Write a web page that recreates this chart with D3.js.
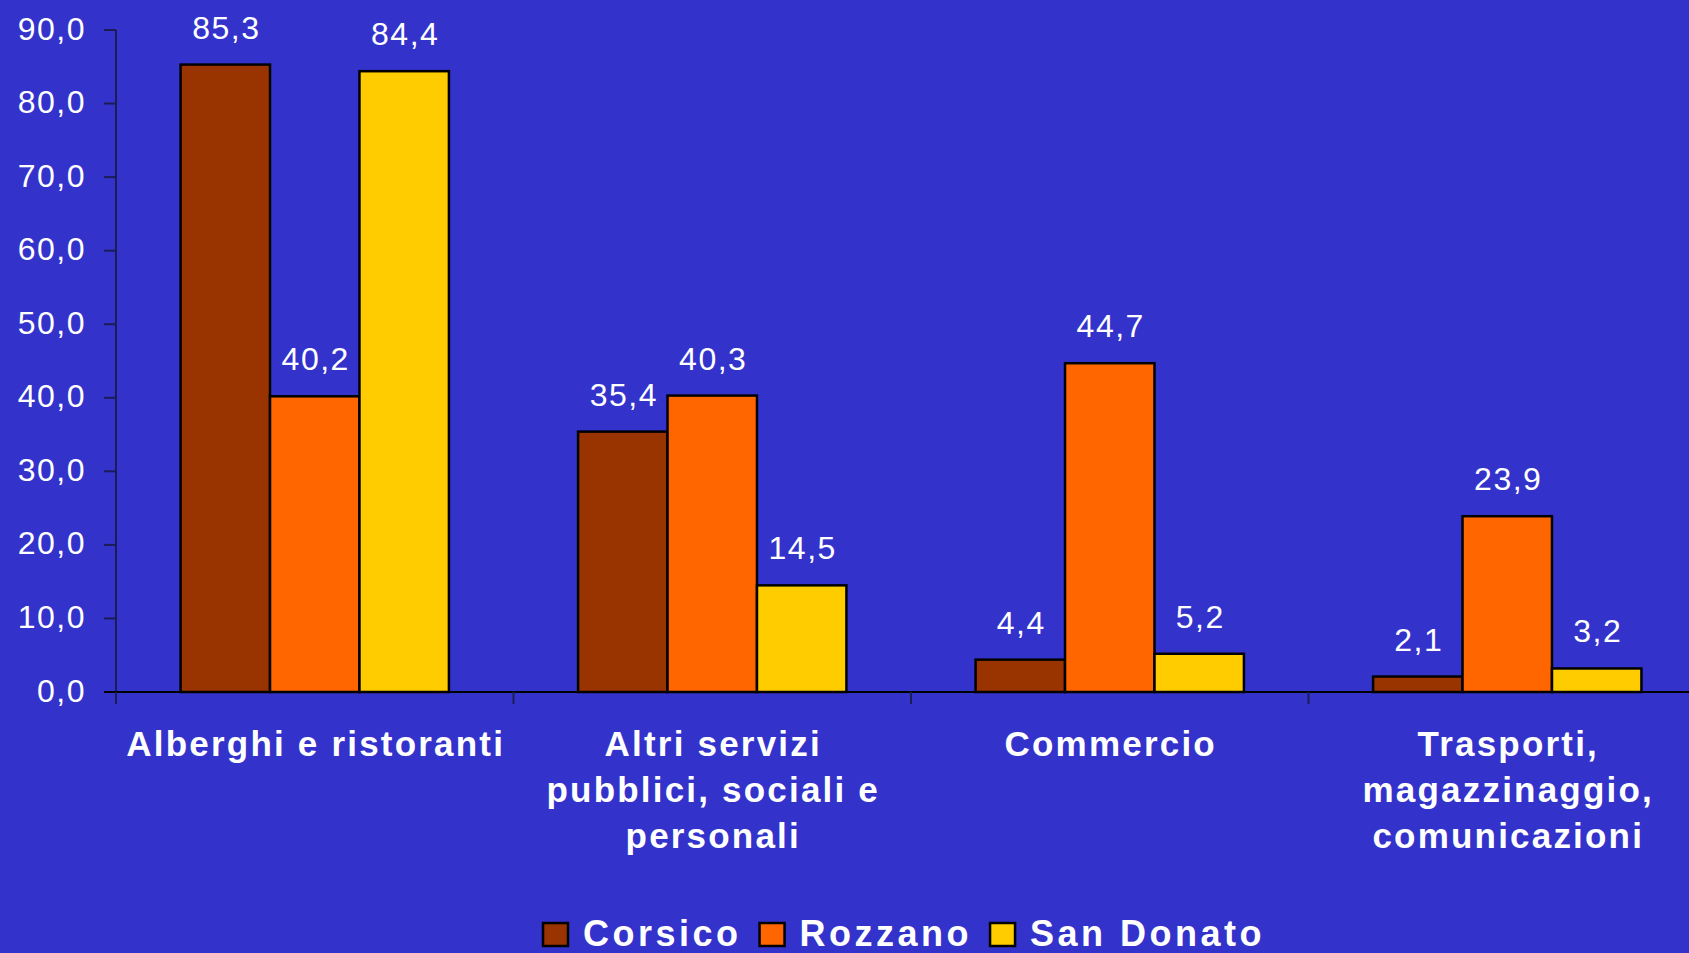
<!DOCTYPE html>
<html>
<head>
<meta charset="utf-8">
<script src="https://cdn.jsdelivr.net/npm/d3@7"></script>
<style>
  body { margin: 0; background: #3333cc; overflow: hidden; }
  svg { display: block; }
  text { font-family: "Liberation Sans", Arial, sans-serif; fill: #ffffff; }
</style>
</head>
<body>
<div id="vis"></div>
<script>
const WIDTH = 1689;
const HEIGHT = 953;

// data
const categories = [
  ["Alberghi e ristoranti"],
  ["Altri servizi", "pubblici, sociali e", "personali"],
  ["Commercio"],
  ["Trasporti,", "magazzinaggio,", "comunicazioni"]
];
const series = ["Corsico", "Rozzano", "San Donato"];
const colors = ["#993300", "#ff6600", "#ffcc00"];
const corsico = [85.3, 35.4, 4.4, 2.1];
const rozzano = [40.2, 40.3, 44.7, 23.9];
const sanDonato = [84.4, 14.5, 5.2, 3.2];
const yTicks = [0, 10, 20, 30, 40, 50, 60, 70, 80, 90];

const values = [corsico, rozzano, sanDonato];
const catKeys = categories.map((c, i) => i);

const svg = d3.select("#vis").append("svg")
  .attr("width", WIDTH)
  .attr("height", HEIGHT);

const PLOT_LEFT = 116;
const STEP = 397.5;

const X = d3.scaleBand()
  .domain(catKeys)
  .range([PLOT_LEFT, PLOT_LEFT + STEP * catKeys.length])
  .padding(0);

const X_INNER = d3.scaleBand()
  .domain(d3.range(series.length))
  .range([0, X.bandwidth()])
  .paddingInner(0)
  .paddingOuter(0.722);

const Y = d3.scaleLinear()
  .domain([0, 90])
  .range([692, 30]);

const fmt = (v) => v.toFixed(1).replace(".", ",");

// y axis
svg.append("line")
  .attr("x1", PLOT_LEFT).attr("x2", PLOT_LEFT)
  .attr("y1", Y(90)).attr("y2", Y(0) + 12)
  .attr("stroke", "#1c1c55").attr("stroke-width", 2);

svg.selectAll(".ytick")
  .data(yTicks)
  .enter()
  .append("line")
    .attr("x1", PLOT_LEFT - 12).attr("x2", PLOT_LEFT)
    .attr("y1", (d) => Y(d)).attr("y2", (d) => Y(d))
    .attr("stroke", "#1c1c55").attr("stroke-width", 2);

svg.selectAll(".ylabel")
  .data(yTicks)
  .enter()
  .append("text")
    .attr("x", 86)
    .attr("y", (d) => Y(d))
    .attr("dy", "0.3em")
    .attr("text-anchor", "end")
    .style("font-size", "32px")
    .style("letter-spacing", "1.5px")
    .text(fmt);

// bars
catKeys.forEach((c) => {
  const g = svg.append("g").attr("transform", "translate(" + X(c) + ",0)");
  series.forEach((s, si) => {
    const v = values[si][c];
    g.append("rect")
      .attr("x", X_INNER(si))
      .attr("y", Y(v))
      .attr("width", X_INNER.bandwidth())
      .attr("height", Y(0) - Y(v))
      .attr("fill", colors[si])
      .attr("stroke", "#000")
      .attr("stroke-width", 2.5);
    g.append("text")
      .attr("x", X_INNER(si) + X_INNER.bandwidth() / 2 + 1)
      .attr("y", Y(v) - 26)
      .attr("text-anchor", "middle")
      .style("font-size", "32px")
      .style("letter-spacing", "1.5px")
      .text(fmt(v));
  });
});

// baseline and category ticks
svg.append("line")
  .attr("x1", PLOT_LEFT - 12).attr("x2", WIDTH)
  .attr("y1", Y(0)).attr("y2", Y(0))
  .attr("stroke", "#000").attr("stroke-width", 2);

svg.selectAll(".xtick")
  .data(catKeys)
  .enter()
  .append("line")
    .attr("x1", (d) => X(d)).attr("x2", (d) => X(d))
    .attr("y1", Y(0)).attr("y2", Y(0) + 12)
    .attr("stroke", "#1c1c55").attr("stroke-width", 2);

// category labels
catKeys.forEach((c) => {
  const t = svg.append("text")
    .attr("text-anchor", "middle")
    .style("font-size", "35px")
    .style("font-weight", "bold")
    .style("letter-spacing", "2.2px");
  categories[c].forEach((line, li) => {
    t.append("tspan")
      .attr("x", X(c) + X.bandwidth() / 2 + 1)
      .attr("y", 756 + li * 46)
      .text(line);
  });
});

// legend
let lx = 543;
series.forEach((s, si) => {
  svg.append("rect")
    .attr("x", lx).attr("y", 923)
    .attr("width", 25).attr("height", 23)
    .attr("fill", colors[si])
    .attr("stroke", "#000")
    .attr("stroke-width", 2.5);
  const t = svg.append("text")
    .attr("x", lx + 40)
    .attr("y", 946)
    .style("font-size", "36px")
    .style("font-weight", "bold")
    .style("letter-spacing", "3.5px")
    .text(s);
  lx = lx + 40 + t.node().getComputedTextLength() + 18;
});
</script>
</body>
</html>
